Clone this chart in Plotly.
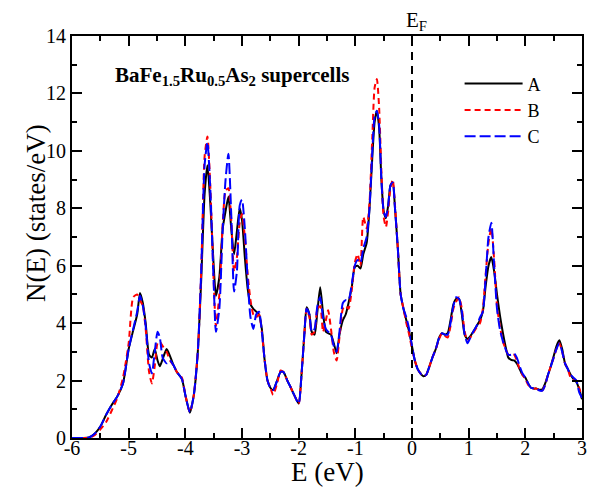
import plotly.graph_objects as go

energy = [-6.0, -5.8, -5.7, -5.6, -5.5, -5.4, -5.3, -5.2, -5.1, -5.0,
          -4.92, -4.85, -4.8, -4.75, -4.7, -4.64, -4.59, -4.54, -4.49, -4.45,
          -4.4, -4.33, -4.27, -4.2, -4.15, -4.06, -4.0, -3.92, -3.85, -3.78,
          -3.72, -3.66, -3.61, -3.56, -3.5, -3.46, -3.4, -3.34, -3.29, -3.24,
          -3.19, -3.14, -3.09, -3.04, -3.0, -2.95, -2.9, -2.85, -2.8, -2.75,
          -2.7, -2.65, -2.6, -2.55, -2.5, -2.45, -2.38, -2.32, -2.27, -2.2,
          -2.15, -2.08, -2.0, -1.95, -1.9, -1.86, -1.81, -1.77, -1.72, -1.67,
          -1.62, -1.57, -1.52, -1.48, -1.43, -1.38, -1.33, -1.28, -1.22, -1.17,
          -1.12, -1.06, -1.01, -0.96, -0.91, -0.86, -0.8, -0.75, -0.7, -0.66,
          -0.62, -0.58, -0.54, -0.5, -0.46, -0.42, -0.38, -0.34, -0.3, -0.25,
          -0.2, -0.15, -0.1, -0.05, 0.0, 0.05, 0.1, 0.15, 0.2, 0.25,
          0.3, 0.36, 0.42, 0.48, 0.53, 0.58, 0.63, 0.68, 0.73, 0.78,
          0.83, 0.88, 0.93, 0.98, 1.03, 1.08, 1.14, 1.2, 1.25, 1.3,
          1.35, 1.4, 1.45, 1.5, 1.55, 1.6, 1.65, 1.7, 1.75, 1.8,
          1.85, 1.9, 1.95, 2.0, 2.05, 2.1, 2.15, 2.2, 2.25, 2.3,
          2.35, 2.4, 2.45, 2.5, 2.55, 2.6, 2.65, 2.7, 2.75, 2.8,
          2.85, 2.9, 2.95, 3.0]

dos_A = [0, 0, 0.02, 0.15, 0.4, 0.8, 1.15, 1.45, 1.9, 3.1,
         3.75, 4.3, 5.05, 4.7, 4.0, 2.9, 2.8, 3.1, 2.7, 2.5,
         2.75, 3.1, 2.85, 2.5, 2.3, 2.05, 1.5, 0.88, 1.5, 3.0,
         5.5, 8.5, 9.5, 8.2, 6.0, 4.95, 5.6, 7.3, 7.9, 8.4,
         7.3, 6.4, 7.2, 8.0, 7.6, 6.3, 5.2, 4.65, 4.5, 4.4,
         4.3, 3.8, 2.7, 2.0, 1.75, 1.67, 2.0, 2.3, 2.3, 2.0,
         1.8, 1.5, 1.2, 2.2, 3.6, 4.55, 4.3, 3.7, 3.6, 4.4,
         5.25, 4.35, 3.7, 3.65, 3.6, 3.3, 2.95, 3.6, 4.1, 4.3,
         4.7, 5.3, 5.95, 6.0, 5.9, 6.4, 6.8, 8.0, 9.8, 11.0,
         11.4, 10.8, 9.0, 7.9, 7.65, 8.1, 8.8, 8.9, 8.0, 6.6,
         5.0, 4.5, 4.1, 3.7, 3.2, 2.7, 2.4, 2.25, 2.15, 2.2,
         2.45, 2.8, 3.1, 3.5, 3.65, 3.6, 3.65, 4.1, 4.65, 4.85,
         4.85, 4.3, 3.6, 3.45, 3.55, 3.7, 3.9, 4.1, 4.4, 5.3,
         6.0, 6.3, 5.8, 5.0, 4.3, 3.7, 3.2, 2.8, 2.72, 2.7,
         2.6, 2.4, 2.2, 2.1, 1.9, 1.75, 1.72, 1.72, 1.68, 1.7,
         1.9, 2.2, 2.5, 2.85, 3.2, 3.4, 3.1, 2.6, 2.4, 2.2,
         2.05, 1.95, 1.7, 1.35]

dos_B = [0, 0, 0.0, 0.1, 0.3, 0.55, 0.95, 1.4, 2.1, 3.3,
         4.9, 5.0, 4.8, 4.6, 3.8, 2.3, 1.9, 2.5, 3.3, 3.35,
         3.2, 3.0, 2.7, 2.5, 2.3, 2.1, 1.5, 0.9, 1.5, 3.0,
         5.8, 9.8, 10.5, 8.8, 5.5, 3.9, 5.0, 7.5, 8.6, 8.7,
         7.6, 5.8, 6.3, 7.5, 7.8, 7.0, 5.7, 4.8, 4.3, 4.2,
         4.3, 3.7, 2.7, 2.0, 1.75, 1.5, 1.9, 2.35, 2.3, 2.0,
         1.8, 1.5, 1.2, 2.2, 3.6, 4.5, 4.2, 3.6, 3.7, 4.5,
         4.6, 3.7, 4.1, 4.45, 3.8, 3.0, 2.7, 3.5, 4.5, 4.6,
         4.5, 5.2, 6.1, 6.4, 6.0, 7.7, 7.3, 8.2, 10.5, 12.2,
         12.5, 11.5, 9.3, 7.7, 7.35, 7.9, 8.7, 9.0, 8.1, 6.6,
         5.0, 4.5, 4.0, 3.6, 3.1, 2.7, 2.4, 2.25, 2.15, 2.2,
         2.45, 2.8, 3.1, 3.45, 3.65, 3.55, 3.5, 3.9, 4.5, 4.75,
         4.9, 4.5, 3.7, 3.4, 3.5, 3.65, 3.85, 4.0, 4.5, 5.7,
         6.8, 7.3, 6.2, 4.6, 3.9, 3.4, 3.1, 2.9, 2.9, 2.9,
         2.7, 2.4, 2.2, 2.05, 1.85, 1.75, 1.72, 1.72, 1.65, 1.65,
         1.85, 2.2, 2.5, 2.8, 3.1, 3.3, 3.0, 2.6, 2.4, 2.1,
         2.05, 2.0, 1.75, 1.4]

dos_C = [0, 0, 0.02, 0.15, 0.4, 0.8, 1.15, 1.45, 1.9, 3.1,
         3.8, 4.4, 4.95, 4.6, 3.9, 2.6, 2.25, 3.0, 3.7, 3.5,
         2.8, 2.6, 2.7, 2.5, 2.3, 2.05, 1.5, 0.9, 1.5, 3.0,
         5.8, 9.5, 10.3, 8.7, 5.4, 3.7, 4.5, 7.3, 9.0, 9.9,
         7.8, 5.1, 5.8, 8.1, 8.3, 7.3, 5.5, 4.2, 3.8, 4.3,
         4.4, 3.7, 2.7, 2.0, 1.75, 1.67, 2.0, 2.3, 2.3, 2.0,
         1.8, 1.5, 1.2, 2.2, 3.6, 4.5, 4.3, 3.7, 3.8, 4.6,
         4.9, 4.2, 3.8, 3.7, 3.6, 3.2, 3.0, 3.7, 4.7, 4.8,
         4.8, 5.4, 6.0, 6.2, 6.1, 6.6, 7.0, 8.0, 10.0, 11.2,
         11.4, 10.9, 9.0, 7.9, 7.7, 8.1, 8.8, 8.9, 8.0, 6.6,
         5.0, 4.5, 4.2, 3.8, 3.2, 2.7, 2.4, 2.25, 2.15, 2.2,
         2.45, 2.8, 3.1, 3.5, 3.65, 3.6, 3.6, 4.0, 4.6, 4.9,
         4.85, 4.4, 3.6, 3.3, 3.5, 3.7, 3.9, 4.2, 4.4, 5.6,
         7.0, 7.5, 6.0, 4.5, 3.8, 3.4, 3.1, 2.9, 2.9, 2.95,
         2.8, 2.5, 2.25, 2.1, 1.9, 1.75, 1.72, 1.72, 1.65, 1.65,
         1.85, 2.2, 2.5, 2.8, 3.1, 3.3, 3.0, 2.6, 2.4, 2.2,
         2.1, 2.0, 1.6, 1.4]

series_names = ["A", "B", "C"]
fermi_energy = 0.0
x_ticks = [-6, -5, -4, -3, -2, -1, 0, 1, 2, 3]
y_ticks = [0, 2, 4, 6, 8, 10, 12, 14]

FONT = "Liberation Serif, Times New Roman, serif"

fig = go.Figure()
styles = [
    dict(color="black", width=2, dash="solid"),
    dict(color="#ff0000", width=2, dash="6px,4px"),
    dict(color="#0000ff", width=2, dash="11px,4px"),
]
for name, ys, st in zip(series_names, [dos_A, dos_B, dos_C], styles):
    fig.add_trace(go.Scatter(x=energy, y=ys, mode="lines", name=name,
                             line=dict(shape="spline", smoothing=0.6, **st)))

fig.add_vline(x=fermi_energy, line=dict(color="black", width=2, dash="8px,6px"))

fig.add_annotation(x=fermi_energy, xref="x", y=1.0, yref="paper", yanchor="bottom",
                   xanchor="left", xshift=-8, yshift=0, showarrow=False,
                   text="E<sub>F</sub>", font=dict(family=FONT, size=21, color="black"))

fig.add_annotation(x=0.08, xref="paper", y=0.90, yref="paper", xanchor="left",
                   yanchor="middle", showarrow=False,
                   text="<b>BaFe<sub>1.5</sub>Ru<sub>0.5</sub>As<sub>2</sub> supercells</b>",
                   font=dict(family=FONT, size=21, color="black"))

# axis titles
fig.add_annotation(x=0.5, xref="paper", y=(438 - 472) / 402, yref="paper",
                   xanchor="center", yanchor="middle", showarrow=False,
                   text="E (eV)", font=dict(family=FONT, size=27, color="black"))
fig.add_annotation(x=(36 - 72) / 510, xref="paper", y=(438 - 213) / 402, yref="paper",
                   xanchor="center", yanchor="middle", showarrow=False, textangle=-90,
                   text="N(E) (states/eV)", font=dict(family=FONT, size=27, color="black"))

axis_common = dict(showline=True, linecolor="black", linewidth=2, mirror="ticks",
                   ticks="inside", ticklen=10, tickwidth=1.5, tickcolor="black",
                   showgrid=False, zeroline=False, automargin=False,
                   tickfont=dict(family=FONT, size=20, color="black"))

fig.update_xaxes(range=[-6, 3], tickvals=x_ticks, ticktext=[str(t) for t in x_ticks],
                 minor=dict(ticks="inside", ticklen=5, tickwidth=1.5, tickcolor="black", dtick=0.5),
                 ticklabelstandoff=-9, **axis_common)
fig.update_yaxes(range=[0, 14], tickvals=y_ticks, ticktext=[str(t) for t in y_ticks],
                 minor=dict(ticks="inside", ticklen=5, tickwidth=1.5, tickcolor="black", dtick=1),
                 **axis_common)

fig.update_layout(
    width=589, height=489,
    margin=dict(l=72, r=7, t=36, b=51, autoexpand=False),
    plot_bgcolor="white", paper_bgcolor="white",
    legend=dict(x=0.76, y=0.927, xanchor="left", yanchor="top",
                bgcolor="rgba(0,0,0,0)", font=dict(family=FONT, size=18, color="black"),
                tracegroupgap=0, itemwidth=58),
    showlegend=True,
)

fig.write_html("out.html")
